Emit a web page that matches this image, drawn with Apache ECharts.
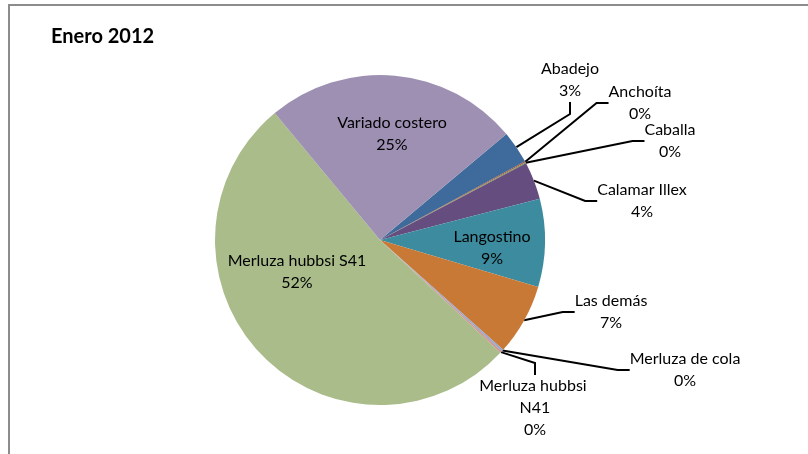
<!DOCTYPE html>
<html>
<head>
<meta charset="utf-8">
<script src="https://cdn.jsdelivr.net/npm/echarts@6/dist/echarts.min.js"></script>
<style>
  html, body { margin: 0; padding: 0; background: #fff; }
  #chart { position: absolute; left: 0; top: 0; width: 808px; height: 454px; }
  #frame {
    position: absolute; left: 8px; top: 4px; width: 900px; height: 600px;
    border-left: 2px solid #8c8c8c; border-top: 2px solid #8c8c8c;
    pointer-events: none;
  }
</style>
</head>
<body>
<div id="chart"></div>
<div id="frame"></div>
<script>
const categories = [
  'Abadejo', 'Anchoíta', 'Caballa', 'Calamar Illex', 'Langostino',
  'Las demás', 'Merluza de cola', 'Merluza hubbsi N41', 'Merluza hubbsi S41', 'Variado costero'
]
const shares = [3.2, 0.1, 0.1, 3.7, 8.6, 7.0, 0.2, 0.2, 52.0, 24.9]

const colors = [
  '#3f6a9c', '#9e4b48', '#7f9a48', '#654d80', '#3c8b9f',
  '#c97936', '#93a9cf', '#cf9594', '#a9bc8a', '#9e90b3'
]
// label centre points, same order as categories
const labelPos = [
  [570, 80], [640, 103], [670, 141], [642, 201], [492, 248],
  [611, 312], [685, 370], [535, 408], [297, 272], [392, 134]
]
const insideLabels = ['Langostino', 'Merluza hubbsi S41', 'Variado costero']

const chart = echarts.init(document.getElementById('chart'))

chart.setOption({
  animation: false,
  backgroundColor: '#fff',
  textStyle: { fontFamily: 'Lato' },
  title: {
    text: 'Enero 2012',
    left: 46,
    top: 22,
    textStyle: { fontFamily: 'Lato', fontSize: 20, fontWeight: 'bold', color: '#000' },
  },
  series: [
    {
      type: 'pie',
      center: [380, 240],
      radius: 165,
      startAngle: 40,
      clockwise: true,
      itemStyle: { borderWidth: 0 },
      label: {
        show: true,
        color: '#000',
        fontFamily: 'Lato',
        fontSize: 16,
        lineHeight: 22,
        align: 'center',
        formatter: p => p.name + '\n' + Math.round(p.percent) + '%',
      },
      labelLine: {
        show: true,
        length: 10,
        length2: 12,
        lineStyle: { color: '#000', width: 2 },
      },
      labelLayout: params => {
        const pos = labelPos[params.dataIndex]
        return { x: pos[0], y: pos[1], align: 'center', verticalAlign: 'middle' }
      },
      emphasis: { disabled: true },
      data: categories.map((name, i) => {
        const item = { name, value: shares[i], itemStyle: { color: colors[i] } }
        if (insideLabels.includes(name)) {
          item.label = { position: 'inside' }
          item.labelLine = { show: false }
        }
        if (name === 'Merluza hubbsi N41') {
          item.label = { width: 120, overflow: 'break' }
        }
        return item
      }),
    },
  ],
})
</script>
</body>
</html>
